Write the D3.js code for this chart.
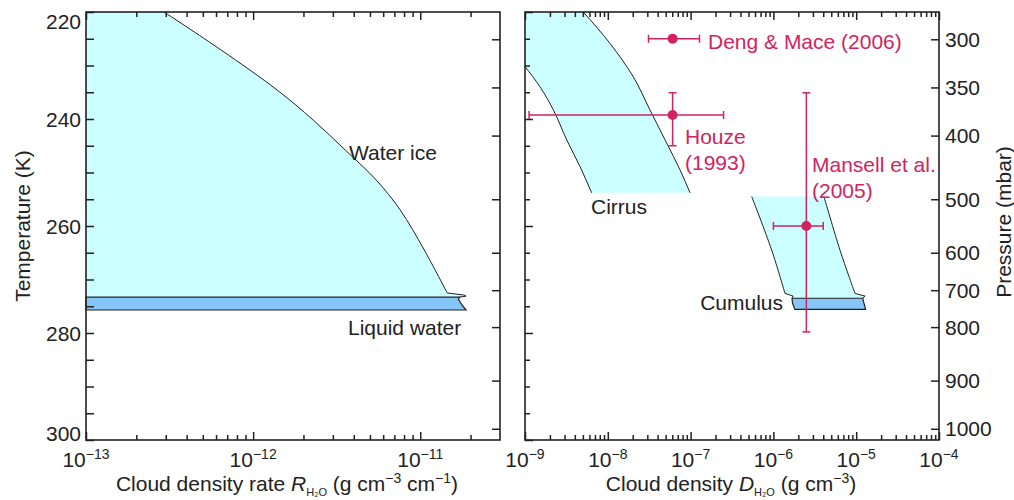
<!DOCTYPE html>
<html>
<head>
<meta charset="utf-8">
<script src="https://cdn.jsdelivr.net/npm/d3@7"></script>
<style>
  body { margin: 0; background: #fff; }
  svg { display: block; font-family: "Liberation Sans", Arial, sans-serif; }
</style>
</head>
<body>
<div id="chart"></div>
<script>
// Temperature axis (K) and pressure levels (mbar) with the temperature they sit at
const tempMajor = [220, 240, 260, 280, 300];
const pressureLevels = [300, 350, 400, 500, 600, 700, 800, 900, 1000];
const pressureTemps = [225.1, 234.1, 243.1, 255.0, 265.0, 272.0, 278.9, 288.9, 297.9];

// Left panel: cloud density rate, [R, T]
const waterIce = [
  [2.93e-13, 220], [6.43e-13, 227.1], [1.392e-12, 234.58], [2.287e-12, 240.19],
  [3.556e-12, 245.79], [5.45e-12, 251.4], [7.59e-12, 257.01], [1.057e-11, 264.49],
  [1.45e-11, 272.52]
];
const waterIceNotch = [[1.82e-11, 272.9], [1.88e-11, 273.1], [1.72e-11, 273.3]];
const liquidWater = [
  [1e-13, 273.3], [1.72e-11, 273.3], [1.69e-11, 273.7], [1.78e-11, 274.8],
  [1.88e-11, 275.7], [1e-13, 275.7]
];

// Right panel: cloud density, [D, T]
const cirrusRight = [
  [5.06e-9, 220], [1.06e-8, 225.85], [2.03e-8, 232.1], [3.23e-8, 238.3],
  [5.14e-8, 244.5], [7.45e-8, 249.5], [9.84e-8, 253.8]
];
const cirrusLeft = [
  [1e-9, 230.2], [1.52e-9, 234.0], [2.20e-9, 238.3], [3.19e-9, 243.9],
  [4.62e-9, 248.9], [6.39e-9, 253.8]
];
const cumulusLeft = [[5.47e-7, 254.5], [9.53e-7, 264.5], [1.38e-6, 272.6]];
const cumulusLeftNotch = [[1.73e-6, 273.1], [1.68e-6, 273.5]];
const cumulusRight = [[4.08e-6, 254.5], [6.37e-6, 264.5], [9.68e-6, 272.6]];
const cumulusRightNotch = [[1.28e-5, 273.1], [1.20e-5, 273.5]];
const cumulusLiquid = [
  [1.68e-6, 273.5], [1.20e-5, 273.5], [1.24e-5, 274.4], [1.30e-5, 275.6],
  [1.82e-6, 275.6], [1.70e-6, 274.4]
];

// Observations
const observations = [
  { name: 'deng', D: 6.06e-8, T: 225.0, xLo: 3.1e-8, xHi: 1.28e-7, yLo: null, yHi: null },
  { name: 'houze', D: 6.06e-8, T: 239.25, xLo: 1.12e-9, xHi: 2.5e-7, yLo: 235.1, yHi: 245.0 },
  { name: 'mansell', D: 2.5e-6, T: 260, xLo: 1e-6, xHi: 4e-6, yLo: 235.1, yHi: 279.8 }
];

const leftExps = [-13, -12, -11];
const rightExps = [-9, -8, -7, -6, -5, -4];

const ICE = '#ccffff';
const LIQUID = '#86c5f8';
const RED = '#d2235f';
const INK = '#222';
const FS = 21;
const SUP = 14;

const svg = d3.select('#chart').append('svg')
  .attr('width', 1014).attr('height', 500);

const y = d3.scaleLinear().domain([220, 300]).range([12, 440]);
const xR = d3.scaleLog().domain([1e-13, 3e-11]).range([86, 500]);
const xD = d3.scaleLog().domain([1e-9, 1e-4]).range([525, 939]);

function lineFor(x, curve) {
  return d3.line().x(d => x(d[0])).y(d => y(d[1])).curve(curve);
}
// smooth edge followed by straight notch segments
function edgePath(x, pts, notch) {
  return lineFor(x, d3.curveCatmullRom)(pts) + notch.map(p => 'L' + x(p[0]) + ',' + y(p[1])).join('');
}
function pt(x, p) { return x(p[0]) + ',' + y(p[1]); }

// ---------- left panel shapes ----------
const iceEdge = edgePath(xR, waterIce, waterIceNotch);
svg.append('path')
  .attr('d', 'M' + pt(xR, [1e-13, 220]) + 'L' + iceEdge.slice(1) + 'L' + pt(xR, [1e-13, 273.3]) + 'Z')
  .attr('fill', ICE);
svg.append('path').attr('d', iceEdge)
  .attr('fill', 'none').attr('stroke', INK).attr('stroke-width', 1);
svg.append('path').attr('d', lineFor(xR, d3.curveLinearClosed)(liquidWater))
  .attr('fill', LIQUID).attr('stroke', INK).attr('stroke-width', 1.2);

// ---------- right panel shapes ----------
const mono = lineFor(xD, d3.curveMonotoneY);
const cirrusFill = mono(cirrusRight) + 'L' + mono(cirrusLeft.slice().reverse()).slice(1)
  + 'L' + pt(xD, [1e-9, 220]) + 'Z';
svg.append('path').attr('d', cirrusFill).attr('fill', ICE);
svg.append('path').attr('d', mono(cirrusRight)).attr('fill', 'none').attr('stroke', INK).attr('stroke-width', 1);
svg.append('path').attr('d', mono(cirrusLeft)).attr('fill', 'none').attr('stroke', INK).attr('stroke-width', 1);

const cuRight = edgePath(xD, cumulusRight, cumulusRightNotch);
const cuLeft = edgePath(xD, cumulusLeft, cumulusLeftNotch);
const cuLeftBack = cumulusLeftNotch.slice().reverse().map(p => 'L' + pt(xD, p)).join('')
  + 'L' + lineFor(xD, d3.curveCatmullRom)(cumulusLeft.slice().reverse()).slice(1);
svg.append('path').attr('d', cuRight + cuLeftBack + 'Z').attr('fill', ICE);
svg.append('path').attr('d', cuRight).attr('fill', 'none').attr('stroke', INK).attr('stroke-width', 1);
svg.append('path').attr('d', cuLeft).attr('fill', 'none').attr('stroke', INK).attr('stroke-width', 1);
svg.append('path').attr('d', lineFor(xD, d3.curveLinearClosed)(cumulusLiquid))
  .attr('fill', LIQUID).attr('stroke', INK).attr('stroke-width', 1.2);

// ---------- axes ----------
function styleAxis(g) {
  g.select('.domain').remove();
  g.selectAll('.tick line').attr('stroke', INK).attr('stroke-width', 1.5);
  g.selectAll('.tick text').remove();
}

function logMinor(x) {
  const [a, b] = x.domain();
  const out = [];
  for (let e = Math.floor(Math.log10(a)); e <= Math.ceil(Math.log10(b)); e++) {
    for (let m = 2; m <= 9; m++) {
      const v = m * Math.pow(10, e);
      if (v > a && v < b) out.push(v);
    }
  }
  return out;
}

function logAxes(x, exps) {
  const majors = exps.map(e => Math.pow(10, e));
  const minors = logMinor(x);
  [[d3.axisBottom, 440, -8, majors], [d3.axisBottom, 440, -5, minors],
   [d3.axisTop, 12, -8, majors], [d3.axisTop, 12, -5, minors]].forEach(([fn, ty, s, vals]) => {
    svg.append('g').attr('transform', `translate(0,${ty})`)
      .call(fn(x).tickValues(vals).tickSize(s)).call(styleAxis);
  });
  const lab = svg.append('g').attr('font-size', FS).attr('fill', INK);
  exps.forEach(e => {
    const t = lab.append('text').attr('x', x(Math.pow(10, e))).attr('y', 467)
      .attr('text-anchor', 'middle');
    t.append('tspan').text('10');
    t.append('tspan').attr('dy', -8).attr('font-size', SUP).text('\u2212' + Math.abs(e));
  });
}

function tempAxis(x0, labels) {
  const minorT = d3.range(225, 300, 5).filter(v => !tempMajor.includes(v));
  svg.append('g').attr('transform', `translate(${x0},0)`)
    .call(d3.axisLeft(y).tickValues(tempMajor).tickSize(-8)).call(styleAxis);
  svg.append('g').attr('transform', `translate(${x0},0)`)
    .call(d3.axisLeft(y).tickValues(minorT).tickSize(labels ? -8 : -5)).call(styleAxis);
  if (labels) {
    // end labels are nudged inward, as in the original
    const nudge = { 220: 9, 300: -7 };
    svg.append('g').attr('font-size', FS).attr('fill', INK)
      .selectAll('text').data(tempMajor).join('text')
      .attr('x', x0 - 5).attr('y', d => y(d) + (nudge[d] || 0)).attr('dy', '0.36em')
      .attr('text-anchor', 'end').text(d => d);
  }
}

function pressureAxis(x1, labels) {
  svg.append('g').attr('transform', `translate(${x1},0)`)
    .call(d3.axisRight(y).tickValues(pressureTemps).tickSize(-8)).call(styleAxis);
  if (labels) {
    svg.append('g').attr('font-size', FS).attr('fill', INK)
      .selectAll('text').data(pressureLevels).join('text')
      .attr('x', x1 + 6).attr('y', (d, i) => y(pressureTemps[i])).attr('dy', '0.36em')
      .text(d => d);
  }
}

tempAxis(86, true);
pressureAxis(500, false);
tempAxis(525, false);
pressureAxis(939, true);
logAxes(xR, leftExps);
logAxes(xD, rightExps);

// frames
[[86, 500], [525, 939]].forEach(([a, b]) => {
  svg.append('rect').attr('x', a).attr('y', 12).attr('width', b - a).attr('height', 428)
    .attr('fill', 'none').attr('stroke', INK).attr('stroke-width', 1.6);
});

// ---------- observations ----------
const obs = svg.append('g').attr('stroke', RED).attr('stroke-width', 1.5).attr('fill', RED);
const cap = 4;
observations.forEach(o => {
  const cx = xD(o.D), cy = y(o.T);
  obs.append('line').attr('x1', xD(o.xLo)).attr('x2', xD(o.xHi)).attr('y1', cy).attr('y2', cy);
  obs.append('line').attr('x1', xD(o.xLo)).attr('x2', xD(o.xLo)).attr('y1', cy - cap).attr('y2', cy + cap);
  obs.append('line').attr('x1', xD(o.xHi)).attr('x2', xD(o.xHi)).attr('y1', cy - cap).attr('y2', cy + cap);
  if (o.yLo !== null) {
    obs.append('line').attr('x1', cx).attr('x2', cx).attr('y1', y(o.yLo)).attr('y2', y(o.yHi));
    obs.append('line').attr('x1', cx - cap).attr('x2', cx + cap).attr('y1', y(o.yLo)).attr('y2', y(o.yLo));
    obs.append('line').attr('x1', cx - cap).attr('x2', cx + cap).attr('y1', y(o.yHi)).attr('y2', y(o.yHi));
  }
  obs.append('circle').attr('cx', cx).attr('cy', cy).attr('r', 5).attr('stroke', 'none');
});

// ---------- labels ----------
const txt = svg.append('g').attr('font-size', FS).attr('fill', INK);
txt.append('text').attr('x', 349).attr('y', 160).text('Water ice');
txt.append('text').attr('x', 348).attr('y', 335).text('Liquid water');
txt.append('text').attr('x', 591).attr('y', 214).text('Cirrus');
txt.append('text').attr('x', 783).attr('y', 310).attr('text-anchor', 'end').text('Cumulus');

const red = svg.append('g').attr('font-size', FS).attr('fill', RED);
red.append('text').attr('x', 708).attr('y', 49).text('Deng & Mace (2006)');
red.append('text').attr('x', 685).attr('y', 144).text('Houze');
red.append('text').attr('x', 685).attr('y', 170).text('(1993)');
red.append('text').attr('x', 812).attr('y', 172).text('Mansell et al.');
red.append('text').attr('x', 812).attr('y', 198).text('(2005)');

// axis titles
const titles = svg.append('g').attr('font-size', FS).attr('fill', INK);
titles.append('text').attr('transform', 'translate(30,226) rotate(-90)')
  .attr('text-anchor', 'middle').text('Temperature (K)');
titles.append('text').attr('transform', 'translate(1011,222) rotate(-90)')
  .attr('text-anchor', 'middle').text('Pressure (mbar)');

const tl = titles.append('text').attr('x', 287).attr('y', 491).attr('text-anchor', 'middle');
tl.append('tspan').text('Cloud density rate ');
tl.append('tspan').attr('font-style', 'italic').text('R');
tl.append('tspan').attr('font-size', 11).attr('dy', 5).text('H\u2082O');
tl.append('tspan').attr('dy', -5).text(' (g cm');
tl.append('tspan').attr('font-size', SUP).attr('dy', -8).text('\u22123');
tl.append('tspan').attr('dy', 8).text(' cm');
tl.append('tspan').attr('font-size', SUP).attr('dy', -8).text('\u22121');
tl.append('tspan').attr('dy', 8).text(')');

const tr = titles.append('text').attr('x', 731).attr('y', 491).attr('text-anchor', 'middle');
tr.append('tspan').text('Cloud density ');
tr.append('tspan').attr('font-style', 'italic').text('D');
tr.append('tspan').attr('font-size', 11).attr('dy', 5).text('H\u2082O');
tr.append('tspan').attr('dy', -5).text(' (g cm');
tr.append('tspan').attr('font-size', SUP).attr('dy', -8).text('\u22123');
tr.append('tspan').attr('dy', 8).text(')');
</script>
</body>
</html>
